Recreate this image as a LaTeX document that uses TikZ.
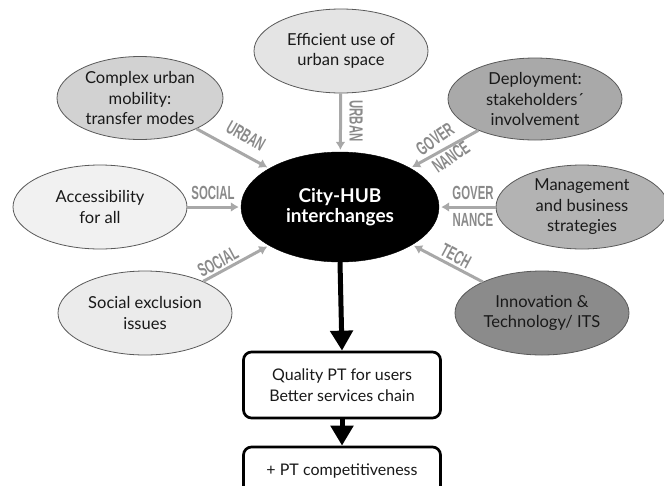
\documentclass[tikz,border=0pt]{standalone}
\usepackage{fontspec}
\setmainfont{Lato}
\newfontfamily\labfont{Liberation Sans}
\usetikzlibrary{shapes.geometric,arrows.meta}
\definecolor{fEff}{HTML}{E4E4E4}
\definecolor{fCx}{HTML}{D2D2D2}
\definecolor{fAcc}{HTML}{F1F1F1}
\definecolor{fSoc}{HTML}{EBEBEB}
\definecolor{fDep}{HTML}{A9A9A9}
\definecolor{fMan}{HTML}{B3B3B3}
\definecolor{fInn}{HTML}{8B8B8B}
\definecolor{arrgray}{HTML}{A8A8A8}
\definecolor{labgray}{HTML}{8A8A8A}
\newcommand\lbl[1]{\scalebox{0.6}[1]{\labfont\bfseries #1}}
\tikzset{
  sat/.style={ellipse, draw=black!65, line width=0.8pt, minimum width=174pt, minimum height=84pt,
    inner sep=0pt, align=center, font=\fontsize{16.5}{20.5}\selectfont, text=black!90},
  hubnode/.style={ellipse, fill=black, draw=black, minimum width=198pt, minimum height=110pt,
    inner sep=0pt, align=center, font=\bfseries\fontsize{19}{20}\selectfont, text=white},
  resbox/.style={draw=black, line width=2.7pt, rounded corners=8pt, fill=white, minimum width=197pt,
    align=center, font=\fontsize{16}{20.5}\selectfont, text=black!90},
  garrow/.style={draw=arrgray, line width=3pt, -{Latex[width=10pt,length=8pt]}, shorten >=2pt},
  barrow/.style={draw=black, line width=5pt, -{Triangle[width=22pt,length=20pt]}},
  tag/.style={text=labgray, font=\fontsize{19}{19}\selectfont, inner sep=0pt}
}
\begin{document}
\begin{tikzpicture}[x=1pt,y=-1pt]
\useasboundingbox (0,0) rectangle (664,485);
\node[hubnode] (hub) at (340,207) {City-HUB\\interchanges};
\node[sat, fill=fEff] (eff) at (341,51) {Efficient use of\\urban space};
\node[sat, fill=fCx, minimum width=166pt, minimum height=83pt] (cx) at (140,98) {Complex urban\\mobility:\\transfer modes};
\node[sat, fill=fAcc] (acc) at (100,207) {Accessibility\\for all};
\node[sat, fill=fSoc] (soc) at (145,313) {Social exclusion\\issues};
\node[sat, fill=fDep, minimum height=82pt] (dep) at (535,99) {Deployment:\\stakeholders\textasciiacute\\involvement};
\node[sat, fill=fMan, minimum width=172pt] (man) at (582,207) {Management\\and business\\strategies};
\node[sat, fill=fInn] (inn) at (542,313) {Innovation \&\\Technology/ ITS};
\node[resbox, minimum height=66pt] (q) at (342,385) {Quality PT for users\\Better services chain};
\node[resbox, minimum height=48pt] (pt) at (342,471) {+ PT competitiveness};
\draw[garrow] (eff) -- (hub);
\draw[garrow] (cx) -- (hub);
\draw[garrow] (acc) -- (hub);
\draw[garrow] (soc) -- (hub);
\draw[garrow] (dep) -- (hub);
\draw[garrow] (man) -- (hub);
\draw[garrow] (inn) -- (hub);
\draw[barrow] (hub.south) -- (q.north);
\draw[barrow] (q.south) -- (pt.north);
\node[tag, rotate=-90] (t1) at (356,121) {\lbl{URBAN}};
\node[tag, rotate=-30] (t2) at (246,136) {\lbl{URBAN}};
\node[tag] (t3) at (213,193) {\lbl{SOCIAL}};
\node[tag, rotate=28] (t4) at (218,262) {\lbl{SOCIAL}};
\node[tag, rotate=35] (t5) at (435,139) {\lbl{GOVER}};
\node[tag, rotate=35] (t6) at (451,157) {\lbl{NANCE}};
\node[tag] (t7) at (473,193) {\lbl{GOVER}};
\node[tag] (t8) at (473,220) {\lbl{NANCE}};
\node[tag, rotate=-28] (t9) at (456,256) {\lbl{TECH}};
\end{tikzpicture}
\end{document}
